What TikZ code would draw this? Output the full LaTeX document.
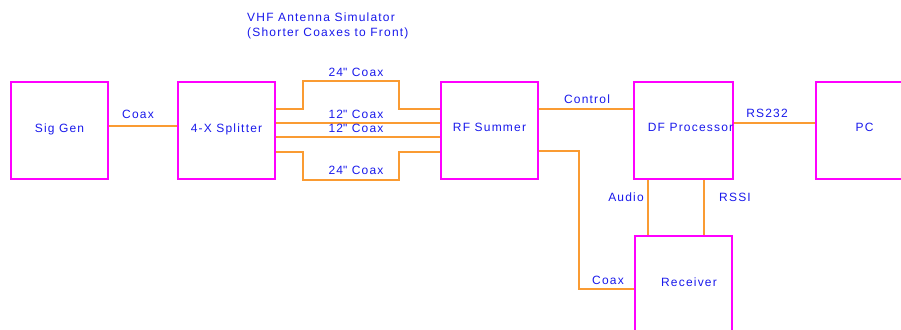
\documentclass[tikz,border=0pt]{standalone}
\usepackage{fontspec}
\setmainfont[LetterSpace=10]{Liberation Sans}
\definecolor{boxpink}{RGB}{255,0,255}
\definecolor{wireorange}{RGB}{250,155,50}
\definecolor{textblue}{RGB}{25,25,235}
\begin{document}
\begin{tikzpicture}[x=1pt,y=-1pt,
  unit/.style={draw=boxpink,line width=2pt,minimum width=97pt,minimum height=97pt,
    inner sep=0pt,font=\fontsize{12}{14}\selectfont,text=textblue,
    text height=3pt,text depth=0pt},
  wire/.style={draw=wireorange,line width=1.6pt},
  lbl/.style={font=\fontsize{12}{14}\selectfont,text=textblue,inner sep=0pt}]
\useasboundingbox (0,0) rectangle (901,329);
\clip (0,0) rectangle (901,329);

% title
\node[lbl,anchor=west,align=left,execute at begin node=\setlength{\baselineskip}{15.5pt}]
  (title) at (247,26) {VHF Antenna Simulator\\(Shorter Coaxes to Front)};

% equipment blocks
\node[unit] (siggen)   at (59.5,130.5)  {Sig Gen};
\node[unit] (splitter) at (226.5,130.5) {4-X Splitter};
\node[unit] (summer)   at (489.5,130)   {RF Summer};
\node[unit] (dfp)      at (683.5,130)   {\hspace{14pt}DF Processor};
\node[unit] (pc)       at (864.5,130)   {PC};
\node[unit] (rx)       at (683.5,284.5) {\hspace{11pt}Receiver};

% signal generator to splitter
\draw[wire] (siggen.east |- 0,126) -- (splitter.west |- 0,126);
\node[lbl] (lcoaxa) at (138,114) {Coax};

% four coax runs from splitter to summer
\draw[wire] (splitter.east |- 0,109) -- (303,109) -- (303,81) -- (399,81) -- (399,109) -- (summer.west |- 0,109);
\draw[wire] (splitter.east |- 0,123) -- (summer.west |- 0,123);
\draw[wire] (splitter.east |- 0,137) -- (summer.west |- 0,137);
\draw[wire] (splitter.east |- 0,152) -- (303,152) -- (303,180) -- (399,180) -- (399,152) -- (summer.west |- 0,152);
\node[lbl] (lc24a) at (356,72)  {24\textquotedbl{} Coax};
\node[lbl] (lc12a) at (356,114) {12\textquotedbl{} Coax};
\node[lbl] (lc12b) at (356,128) {12\textquotedbl{} Coax};
\node[lbl] (lc24b) at (356,170) {24\textquotedbl{} Coax};

% summer to DF processor and receiver
\draw[wire] (summer.east |- 0,109) -- (dfp.west |- 0,109);
\node[lbl] (lctrl) at (587,99) {Control};
\draw[wire] (summer.east |- 0,151) -- (579,151) -- (579,289) -- (rx.west |- 0,289);
\node[lbl] (lcoaxb) at (608,280) {Coax};

% receiver outputs to DF processor
\draw[wire] (dfp.south -| 648,0) -- (rx.north -| 648,0);
\draw[wire] (dfp.south -| 704,0) -- (rx.north -| 704,0);
\node[lbl] (laudio) at (626,197) {Audio};
\node[lbl] (lrssi)  at (735,197) {RSSI};

% DF processor to PC
\draw[wire] (dfp.east |- 0,123) -- (pc.west |- 0,123);
\node[lbl] (lrs) at (767,113) {RS232};
\end{tikzpicture}
\end{document}
